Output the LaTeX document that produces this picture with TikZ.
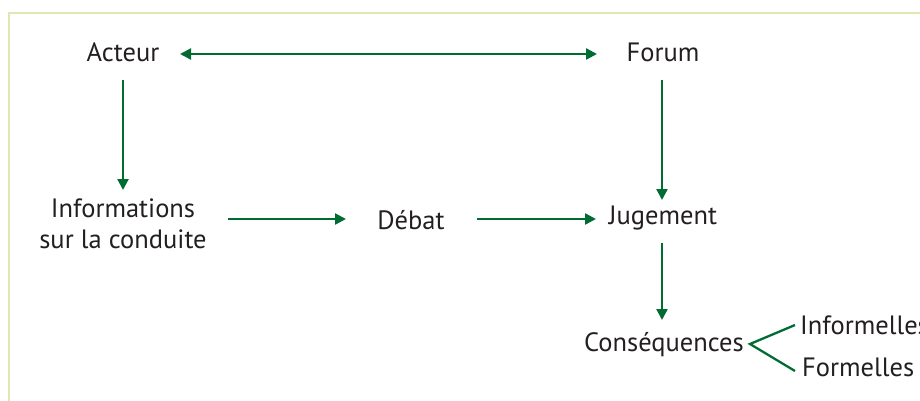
\documentclass[tikz,border=0pt]{standalone}
\usepackage{fontspec}
\setmainfont{PT Sans}
\usetikzlibrary{arrows.meta}
\definecolor{arrgreen}{RGB}{0,108,52}
\definecolor{framegreen}{RGB}{222,232,176}
\definecolor{txt}{RGB}{35,31,32}
\tikzset{
  lbl/.style={font=\fontsize{26.5}{31}\selectfont, text=txt, inner sep=0pt, align=center},
  conn/.style={draw=arrgreen, line width=2.3pt, -{Triangle[length=11pt,width=11pt]}},
  branch/.style={draw=arrgreen, line width=2.3pt}
}
\begin{document}
\begin{tikzpicture}[x=1pt,y=-1pt]
\useasboundingbox (0,0) rectangle (920,401);
\draw[framegreen, line width=2pt] (9,405) -- (9,13) -- (925,13);
\node[lbl] (acteur) at (123,52) {Acteur};
\node[lbl] (forum) at (663,52) {Forum};
\node[lbl] (info) at (123,224) {Informations\\sur la conduite};
\node[lbl] (debat) at (411,220) {Débat};
\node[lbl] (jug) at (663,218) {Jugement};
\node[lbl] (cons) at (664,345) {Conséquences};
\node[lbl, anchor=west] (inf) at (800,325) {Informelles};
\node[lbl, anchor=west] (form) at (802,367) {Formelles};
\coordinate (a1) at (180,54);
\coordinate (a2) at (597,54);
\draw[conn, {Triangle[length=11pt,width=11pt]}-{Triangle[length=11pt,width=11pt]}] (a1) -- (a2);
\draw[conn] (123,80) -- (123,190);
\draw[conn] (662,80) -- (662,200);
\draw[conn] (228,219) -- (346,219);
\draw[conn] (477,219) -- (596,219);
\draw[conn] (662,243) -- (662,320);
\coordinate (b0) at (750,344);
\draw[branch] (795,325) -- (b0) -- (795,371);
\end{tikzpicture}
\end{document}
